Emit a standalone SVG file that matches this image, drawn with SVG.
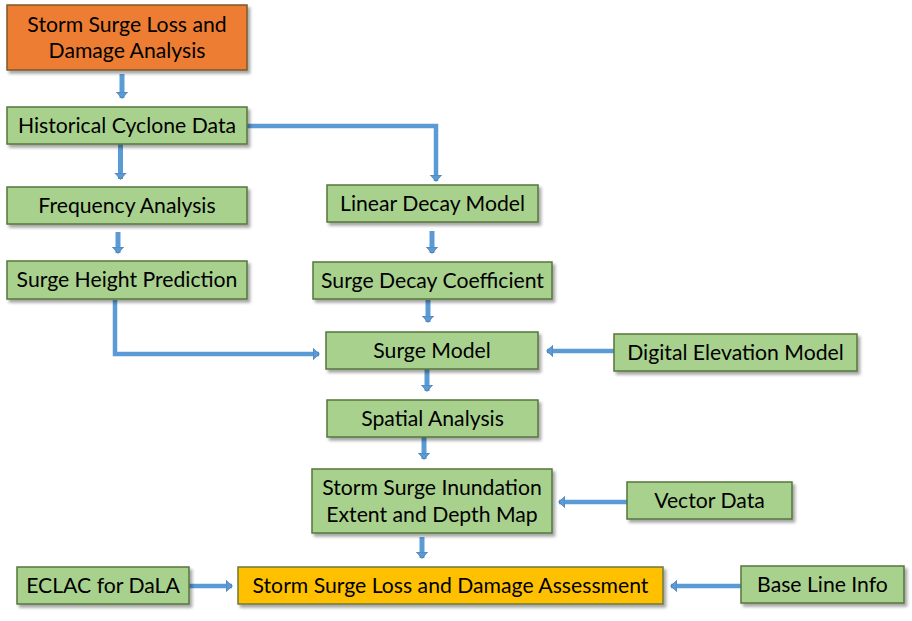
<svg xmlns="http://www.w3.org/2000/svg" width="912" height="621" viewBox="0 0 912 621">
<style>
  .box { stroke: #55763a; stroke-width: 1.5; filter: url(#sh); }
  .g { fill: #a9d18e; }
  .o { fill: #ed7d31; stroke: #7a5a2a; }
  .y { fill: #ffc000; stroke: #6b7a3a; }
  .t { font-family: Lato, "Liberation Sans", sans-serif; font-size: 21.2px; fill: #000; text-anchor: middle; }
  .c { fill: none; stroke: #5b9bd5; stroke-width: 5; }
  .ce { fill: none; stroke: #5b9bd5; stroke-width: 4.5; }
</style>
<defs>
  <filter id="sh" x="-10%" y="-20%" width="130%" height="160%">
    <feDropShadow dx="2.5" dy="3" stdDeviation="1.8" flood-color="#000" flood-opacity="0.35"/>
  </filter>
  <marker id="ah" markerUnits="userSpaceOnUse" markerWidth="13" markerHeight="13" refX="6" refY="6.5" orient="auto" viewBox="0 0 13 13">
    <path d="M0,0.8 L6.5,6.5 L0,12.2 Z" fill="#5b9bd5" stroke="#41719c" stroke-width="0.6"/>
  </marker>
</defs>
<rect width="912" height="621" fill="#fff"/>

<g id="connectors">
  <path class="c" d="M122,74 V98" marker-end="url(#ah)"/>
  <path class="c" d="M120.5,144 V179" marker-end="url(#ah)"/>
  <path class="ce" d="M247,126 H436 V181" marker-end="url(#ah)"/>
  <path class="c" d="M118,232 V253" marker-end="url(#ah)"/>
  <path class="ce" d="M115,300 V354 H319" marker-end="url(#ah)"/>
  <path class="c" d="M432,231 V253" marker-end="url(#ah)"/>
  <path class="c" d="M428,300 V322" marker-end="url(#ah)"/>
  <path class="ce" d="M614,351 H547" marker-end="url(#ah)"/>
  <path class="c" d="M427,369 V391" marker-end="url(#ah)"/>
  <path class="c" d="M424,437 V459" marker-end="url(#ah)"/>
  <path class="ce" d="M627,502 H559" marker-end="url(#ah)"/>
  <path class="c" d="M422,537 V558" marker-end="url(#ah)"/>
  <path class="ce" d="M189,586 H232" marker-end="url(#ah)"/>
  <path class="ce" d="M741,586 H671" marker-end="url(#ah)"/>
</g>

<g id="n-analysis"><rect class="box o" x="7" y="5" width="240" height="65"/>
  <text class="t" x="127" y="32">Storm Surge Loss and</text>
  <text class="t" x="127" y="58">Damage Analysis</text></g>
<g id="n-historical"><rect class="box g" x="7" y="107" width="240" height="37"/>
  <text class="t" x="127" y="133">Historical Cyclone Data</text></g>
<g id="n-frequency"><rect class="box g" x="7" y="187" width="240" height="37"/>
  <text class="t" x="127" y="213">Frequency Analysis</text></g>
<g id="n-height"><rect class="box g" x="7" y="261" width="240" height="38"/>
  <text class="t" x="127" y="287">Surge Height Prediction</text></g>
<g id="n-lineardecay"><rect class="box g" x="327" y="185" width="211" height="37"/>
  <text class="t" x="432.5" y="211">Linear Decay Model</text></g>
<g id="n-coefficient"><rect class="box g" x="313" y="262" width="239" height="37"/>
  <text class="t" x="432.5" y="288">Surge Decay Coefficient</text></g>
<g id="n-surgemodel"><rect class="box g" x="326" y="332" width="212" height="37"/>
  <text class="t" x="432" y="358">Surge Model</text></g>
<g id="n-dem"><rect class="box g" x="614" y="334" width="243" height="37"/>
  <text class="t" x="735.5" y="360">Digital Elevation Model</text></g>
<g id="n-spatial"><rect class="box g" x="327" y="400" width="211" height="37"/>
  <text class="t" x="432.5" y="426">Spatial Analysis</text></g>
<g id="n-inundation"><rect class="box g" x="312" y="469" width="240" height="64"/>
  <text class="t" x="432" y="495">Storm Surge Inundation</text>
  <text class="t" x="432" y="522">Extent and Depth Map</text></g>
<g id="n-vector"><rect class="box g" x="627" y="482" width="165" height="37"/>
  <text class="t" x="709.5" y="508">Vector Data</text></g>
<g id="n-eclac"><rect class="box g" x="17" y="567" width="172" height="37"/>
  <text class="t" x="103" y="593">ECLAC for DaLA</text></g>
<g id="n-assessment"><rect class="box y" x="238" y="567" width="425" height="37"/>
  <text class="t" x="450.5" y="593">Storm Surge Loss and Damage Assessment</text></g>
<g id="n-baseline"><rect class="box g" x="741" y="566" width="163" height="37"/>
  <text class="t" x="822.5" y="592">Base Line Info</text></g>
</svg>
